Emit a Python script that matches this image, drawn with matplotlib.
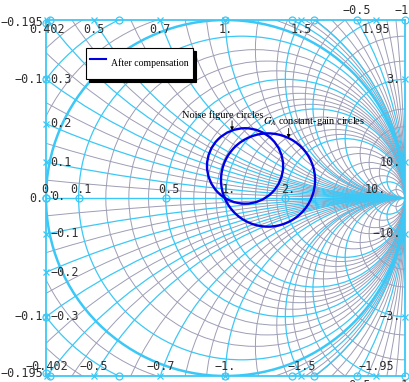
import numpy as np
import matplotlib.pyplot as plt
from matplotlib.patches import Circle
from matplotlib.lines import Line2D

plt.rcParams['mathtext.fontset'] = 'stix'

# Smith chart grid values (labelled = cyan, fine = gray)
r_major = [-1, -0.5, -0.195, -0.1, 0, 0.1, 0.5, 1, 2, 10]
x_major = [0.1, 0.2, 0.3, 0.402, 0.5, 0.7, 1, 1.5, 1.95, 3, 10]
r_minor = [-0.9, -0.8, -0.7, -0.6, -0.4, -0.3, -0.2, -0.15, -0.05,
           0.2, 0.3, 0.4, 0.6, 0.7, 0.8, 0.9, 1.2, 1.4, 1.6, 1.8, 2.5, 3, 4, 5, 7, 20]
x_minor = [0.05, 0.15, 0.25, 0.35, 0.45, 0.6, 0.8, 0.9, 1.2, 1.4, 1.6, 1.8,
           2.2, 2.6, 4, 5, 7, 20]

# circles after compensation: centre (re, im) and radius in the reflection plane
noise_circle = (0.109, 0.180, 0.212)
gain_circle = (0.237, 0.101, 0.262)

CYAN = '#3cc8f6'
GRAY = '#9d9db6'
BLUE = '#0000e0'
LABEL = '#303030'
MONO = 'DejaVu Sans Mono'
SERIF = 'Liberation Serif'


def r_circle(r):
    return r / (1 + r), 0.0, 1 / abs(1 + r)


def x_circle(x):
    return 1.0, 1 / x, 1 / abs(x)


def frame_hits(cx, cy, R):
    hits = []
    for x0, side in ((-1, 'left'), (1, 'right')):
        d = R**2 - (x0 - cx)**2
        if d < -1e-9:
            continue
        for s in (-1, 1):
            y = cy + s * np.sqrt(max(d, 0))
            if -1 <= y <= 1:
                hits.append((x0, y, side))
    for y0, side in ((1, 'top'), (-1, 'bottom')):
        d = R**2 - (y0 - cy)**2
        if d < -1e-9:
            continue
        for s in (-1, 1):
            x = cx + s * np.sqrt(max(d, 0))
            if -1 <= x <= 1:
                hits.append((x, y0, side))
    out = []
    for h in hits:
        if abs(h[0] - 1) < 1e-6 and abs(h[1]) < 1e-6:
            continue
        if any(abs(h[0] - o[0]) < 1e-6 and abs(h[1] - o[1]) < 1e-6 for o in out):
            continue
        out.append(h)
    return out


def fmt(v):
    sign = '\u2212' if v < 0 else ''
    a = abs(v)
    body = f"{int(a)}." if float(a).is_integer() else f"{a:g}"
    return sign + body


inside = {'top': ((0, -2), 'center', 'top'), 'bottom': ((0, 2), 'center', 'bottom'),
          'left': ((3, 0), 'left', 'center'), 'right': ((-3, 0), 'right', 'center')}
outside = {'top': ((0, 2), 'center', 'bottom'), 'bottom': ((0, -2), 'center', 'top'),
           'left': ((-2, 0), 'right', 'center'), 'right': ((2, 0), 'left', 'center')}

fig = plt.figure(figsize=(4.1, 3.82), dpi=100)
ax = fig.add_axes([46 / 410, 6 / 382, 359 / 410, 356 / 382])
ax.set_xlim(-1, 1)
ax.set_ylim(-1, 1)
ax.set_xticks([])
ax.set_yticks([])
for sp in ax.spines.values():
    sp.set_color(CYAN)
    sp.set_linewidth(1.3)

# fine grid
for r in r_minor:
    cx, cy, R = r_circle(r)
    ax.add_patch(Circle((cx, cy), R, fill=False, ec=GRAY, lw=0.7, zorder=1))
for x in x_minor:
    for s in (1, -1):
        cx, cy, R = x_circle(s * x)
        ax.add_patch(Circle((cx, cy), R, fill=False, ec=GRAY, lw=0.7, zorder=1))

# labelled grid
ax.axhline(0, color=CYAN, lw=1.0, zorder=2)
for r in r_major:
    if r == -1:
        hits = [(1, 1, 'top'), (1, -1, 'bottom')]
    else:
        cx, cy, R = r_circle(r)
        ax.add_patch(Circle((cx, cy), R, fill=False, ec=CYAN,
                            lw=1.8 if r == 0 else 0.9, zorder=2))
        hits = frame_hits(cx, cy, R)
    for hx, hy, side in hits:
        ax.plot(hx, hy, 'o', ms=5, mfc='none', mec=CYAN, mew=0.9, clip_on=False, zorder=4)
    if r <= 0 and hits:
        xmin = min(h[0] for h in hits)
        for hx, hy, side in hits:
            if abs(hx - xmin) < 1e-6:
                off, ha, va = outside[side]
                ax.annotate(fmt(r), (hx, hy), xytext=off, textcoords='offset points',
                            ha=ha, va=va, fontsize=8.5, family=MONO, color=LABEL,
                            annotation_clip=False, zorder=5)
    if r >= 0:
        g = (r - 1) / (r + 1)
        ax.plot(g, 0, 'o', ms=5, mfc='none', mec=CYAN, mew=0.9, clip_on=False, zorder=4)
        ax.annotate(fmt(r), (g, 0), xytext=(2, 1.5), textcoords='offset points',
                    ha='center', va='bottom', fontsize=8.5, family=MONO, color=LABEL,
                    annotation_clip=False, zorder=5)

ax.annotate(fmt(0), (-1, 0), xytext=(4, 1), textcoords='offset points',
            ha='left', va='center', fontsize=8.5, family=MONO, color=LABEL,
            annotation_clip=False, zorder=5)

for x in x_major:
    for s in (1, -1):
        cx, cy, R = x_circle(s * x)
        ax.add_patch(Circle((cx, cy), R, fill=False, ec=CYAN, lw=0.9, zorder=2))
        for hx, hy, side in frame_hits(cx, cy, R):
            ax.plot(hx, hy, 'x', ms=4, mec=CYAN, mew=0.9, clip_on=False, zorder=4)
            off, ha, va = inside[side]
            ax.annotate(fmt(s * x), (hx, hy), xytext=off, textcoords='offset points',
                        ha=ha, va=va, fontsize=8.5, family=MONO, color=LABEL,
                        annotation_clip=False, zorder=5)

# compensated noise-figure and gain circles
for cx, cy, R in (noise_circle, gain_circle):
    ax.add_patch(Circle((cx, cy), R, fill=False, ec=BLUE, lw=1.7, zorder=6))

arrow = dict(arrowstyle='-|>', color='black', lw=0.6, mutation_scale=5,
             shrinkA=0, shrinkB=0)
cx, cy, R = noise_circle
tip = (cx + R * np.cos(np.radians(110)), cy + R * np.sin(np.radians(110)))
ax.annotate('', tip, xytext=(0, 7), textcoords='offset points', arrowprops=arrow, zorder=7)
ax.annotate('Noise figure circles', tip, xytext=(-6.5, 7.5), textcoords='offset points',
            ha='center', va='bottom', fontsize=7.5, family=SERIF, zorder=7)
cx, cy, R = gain_circle
tip = (cx + R * np.cos(np.radians(64)), cy + R * np.sin(np.radians(64)))
ax.annotate('', tip, xytext=(0, 7), textcoords='offset points', arrowprops=arrow, zorder=7)
ax.annotate('$G_A$ constant-gain circles', tip, xytext=(18, 7.5), textcoords='offset points',
            ha='center', va='bottom', fontsize=7.5, family=SERIF, zorder=7)

handle = Line2D([], [], color=BLUE, lw=1.5)
leg = ax.legend([handle], ['After compensation'], loc='upper left',
                bbox_to_anchor=(86 / 410, 1 - 48 / 382), bbox_transform=fig.transFigure,
                borderaxespad=0, borderpad=0.4, handlelength=1.7, handletextpad=0.5,
                handleheight=3.3, fancybox=False, framealpha=1, edgecolor='black',
                shadow={'color': 'black', 'alpha': 1}, prop={'family': SERIF, 'size': 7})
leg.get_frame().set_linewidth(0.8)
leg.set_zorder(10)

fig.savefig('out.png', dpi=100)
